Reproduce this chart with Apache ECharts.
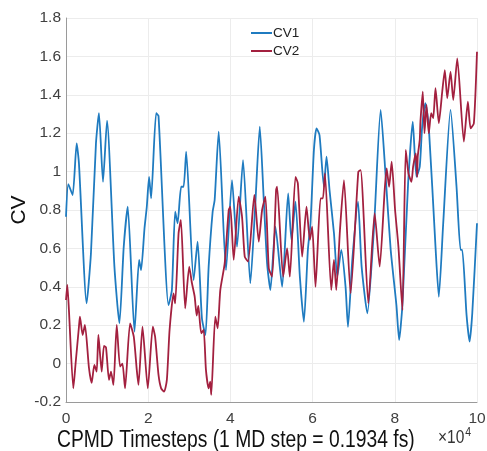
<!DOCTYPE html>
<html>
<head>
<meta charset="utf-8">
<script src="https://cdn.jsdelivr.net/npm/echarts@6/dist/echarts.min.js"></script>
<style>
html,body{margin:0;padding:0;background:#fff;}
#chart{width:487px;height:451px;}
</style>
</head>
<body>
<div id="chart"></div>
<script>
// x in units of 10^4 timesteps
var xTicks = [0, 2, 4, 6, 8, 10];
var yTicks = [-0.2, 0, 0.2, 0.4, 0.6, 0.8, 1, 1.2, 1.4, 1.6, 1.8];
var seriesNames = ['CV1', 'CV2'];

var cv1X = [0, 0.056, 0.161, 0.259, 0.315, 0.502, 0.607, 0.729, 0.802, 0.9, 0.998, 1.178, 1.3, 1.405, 1.502, 1.666,
  1.778, 1.827, 1.91, 1.966, 2.022, 2.071, 2.193, 2.251, 2.495, 2.576, 2.656, 2.715, 2.802, 2.861, 2.924,
  3.105, 3.202, 3.307, 3.393, 3.471, 3.568, 3.617, 3.715, 3.893, 4.039, 4.161, 4.307, 4.485, 4.607, 4.715,
  4.812, 4.893, 4.973, 5.095, 5.259, 5.405, 5.485, 5.583, 5.690, 5.788, 5.885, 5.949, 6.032, 6.095, 6.168,
  6.276, 6.339, 6.412, 6.520, 6.6, 6.698, 6.802, 6.861, 6.966, 7.105, 7.193, 7.332, 7.495, 7.656, 7.778,
  7.9, 8.039, 8.105, 8.185, 8.324, 8.437, 8.527, 8.607, 8.666, 8.746, 8.827, 8.99, 9.071, 9.178, 9.356,
  9.502, 9.6, 9.641, 9.746, 9.82, 9.885, 10];
var cv1Y = [0.765, 0.935, 0.878, 1.147, 1.043, 0.314, 0.575, 1.147, 1.304, 0.947, 1.265, 0.505, 0.21, 0.609, 0.817, 0.166,
  0.54, 0.487, 0.705, 0.817, 0.973, 0.861, 1.304, 1.29, 0.305, 0.383, 0.791, 0.731, 0.921, 0.921, 1.104,
  0.435, 0.635, 0.236, 0.149, 0.505, 0.791, 0.852, 1.208, 0.487, 0.956, 0.609, 1.06, 0.418, 0.835, 1.234,
  0.852, 0.522, 0.383, 0.713, 0.40, 0.887, 0.644, 0.843, 0.453, 0.218, 0.592, 0.731, 1.113, 1.225, 1.19,
  0.921, 1.078, 0.904, 0.679, 0.453, 0.592, 0.40, 0.192, 0.54, 0.843, 0.505, 0.262, 0.713, 1.321, 0.973,
  0.592, 0.305, 0.123, 0.305, 0.939, 1.26, 0.973, 1.026, 1.234, 1.356, 1.234, 0.609, 0.348, 0.731, 1.321,
  0.921, 0.592, 0.592, 0.253, 0.114, 0.262, 0.731];

var cv2X = [0, 0.032, 0.071, 0.178, 0.234, 0.315, 0.339, 0.405, 0.461, 0.559, 0.624, 0.690, 0.746, 0.788, 0.868,
  0.924, 0.973, 1.046, 1.095, 1.154, 1.234, 1.315, 1.373, 1.437, 1.559, 1.649, 1.722, 1.763, 1.861, 1.99,
  2.112, 2.168, 2.251, 2.315, 2.388, 2.454, 2.52, 2.617, 2.656, 2.739, 2.795, 2.9, 2.998, 3.063, 3.13, 3.18,
  3.22, 3.29, 3.349, 3.405, 3.471, 3.51, 3.534, 3.632, 3.690, 3.754, 3.861, 3.959, 3.998, 4.080, 4.202,
  4.283, 4.349, 4.429, 4.583, 4.690, 4.771, 4.851, 4.934, 5.015, 5.112, 5.137, 5.283, 5.380, 5.446, 5.583,
  5.641, 5.746, 5.851, 5.934, 5.990, 6.071, 6.193, 6.251, 6.3, 6.454, 6.520, 6.576, 6.666, 6.763, 6.924,
  7.112, 7.168, 7.356, 7.51, 7.632, 7.754, 7.802, 7.861, 7.924, 8.007, 8.088, 8.185, 8.266, 8.332, 8.405,
  8.446, 8.51, 8.544, 8.558, 8.607, 8.624, 8.680, 8.722, 8.771, 8.827, 8.885, 8.934, 8.99, 9.071, 9.154,
  9.217, 9.276, 9.356, 9.422, 9.520, 9.680, 9.778, 9.844, 9.924, 10];
var cv2Y = [0.331, 0.41, 0.279, -0.129, 0.002, 0.192, 0.244, 0.149, 0.201, -0.023, -0.10, -0.007, -0.042, 0.149, -0.042,
  0.092, 0.085, -0.085, -0.042, -0.111, 0.201, -0.016, 0.0, -0.129, 0.21, 0.14, -0.033, -0.111, 0.192, -0.129,
  0.192, 0.14, -0.059, -0.129, -0.146, -0.085, 0.175, 0.366, 0.314, 0.679, 0.748, 0.288, 0.505, 0.42, 0.35, 0.25,
  0.30, 0.158, 0.175, -0.033, -0.129, -0.094, -0.163, 0.244, 0.184, 0.383, 0.522, 0.80, 0.817, 0.54, 0.869,
  0.765, 0.557, 0.531, 0.878, 0.635, 0.80, 0.869, 0.496, 0.453, 0.904, 0.921, 0.453, 0.60, 0.453, 0.973,
  0.939, 0.557, 0.817, 0.644, 0.713, 0.40, 0.861, 0.861, 0.991, 0.383, 0.54, 0.383, 0.696, 0.956, 0.366,
  0.999, 1.008, 0.314, 0.783, 0.505, 0.904, 1.017, 0.921, 1.052, 0.80, 0.609, 0.279, 1.113, 0.991, 0.947,
  1.026, 1.095, 0.973, 1.078, 1.165, 1.26, 1.416, 1.2, 1.347, 1.2, 1.304, 1.278, 1.434, 1.252, 1.416,
  1.529, 1.382, 1.52, 1.373, 1.59, 1.156, 1.364, 1.225, 1.252, 1.624];

function zip(xs, ys) { return xs.map(function (x, i) { return [x, ys[i]]; }); }

var chart = echarts.init(document.getElementById('chart'), null, {renderer: 'canvas'});
var font = 'Liberation Sans, Arial, sans-serif';
chart.setOption({
  animation: false,
  backgroundColor: '#ffffff',
  grid: {left: 66, right: 10, top: 18, bottom: 49, containLabel: false, outerBoundsMode: 'none'},
  legend: {
    data: seriesNames,
    orient: 'vertical',
    left: 246, top: 21,
    itemWidth: 21, itemHeight: 2, itemGap: 4,
    icon: 'rect',
    textStyle: {fontFamily: font, fontSize: 13.5, color: '#222', padding: [0, 0, 0, -4]}
  },
  xAxis: {
    type: 'value', min: xTicks[0], max: xTicks[xTicks.length - 1], interval: 2,
    axisLine: {show: true, onZero: false, lineStyle: {color: '#9a9a9a', width: 1}},
    axisTick: {show: false},
    axisLabel: {fontFamily: font, fontSize: 15.5, color: '#404040', margin: 9},
    splitLine: {show: true, lineStyle: {color: '#ececec', width: 1}}
  },
  yAxis: {
    type: 'value', min: yTicks[0], max: yTicks[yTicks.length - 1], interval: 0.2,
    name: 'CV', nameLocation: 'middle', nameGap: 36, nameRotate: 90, nameMoveOverlap: false,
    nameTextStyle: {fontFamily: font, fontSize: 21, color: '#111'},
    axisLine: {show: true, onZero: false, lineStyle: {color: '#9a9a9a', width: 1}},
    axisTick: {show: false},
    axisLabel: {fontFamily: font, fontSize: 15.5, color: '#404040', margin: 5,
      formatter: function (v) { return String(Math.round(v * 10) / 10); }},
    splitLine: {show: true, lineStyle: {color: '#ececec', width: 1}}
  },
  graphic: [
    {type: 'text', x: 57, y: 452, scaleY: 1.2,
      style: {x: 0, y: 0, text: 'CPMD Timesteps (1 MD step = 0.1934 fs)', fontFamily: font, fontSize: 19.3,
        fill: '#111', verticalAlign: 'bottom'}},
    {type: 'text', x: 438, y: 450, scaleY: 1.2,
      style: {x: 0, y: 0, text: '×10{s|4}', fontFamily: font, fontSize: 15.5, fill: '#333', verticalAlign: 'bottom',
        rich: {s: {fontSize: 10.5, verticalAlign: 'top', padding: [0, 0, 9, 1], fill: '#333', fontFamily: font}}}}
  ],
  series: [
    {name: seriesNames[0], type: 'line', data: zip(cv1X, cv1Y), showSymbol: false, symbol: 'none', smooth: 0.2,
      lineStyle: {color: '#1f7bc0', width: 1.8}, itemStyle: {color: '#1f7bc0'}},
    {name: seriesNames[1], type: 'line', data: zip(cv2X, cv2Y), showSymbol: false, symbol: 'none', smooth: 0.2,
      lineStyle: {color: '#a3203f', width: 1.8}, itemStyle: {color: '#a3203f'}}
  ]
});
</script>
</body>
</html>
